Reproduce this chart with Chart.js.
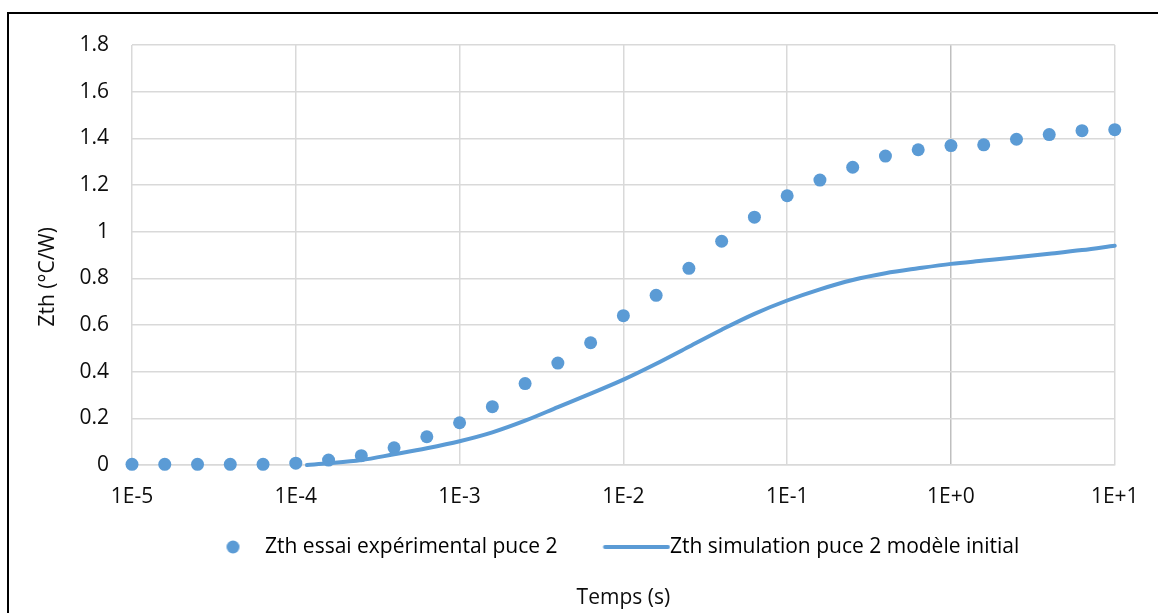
<!DOCTYPE html>
<html>
<head>
<meta charset="utf-8">
<script src="https://cdn.jsdelivr.net/npm/chart.js@4.4.1/dist/chart.umd.min.js"></script>
<style>
  html, body { margin: 0; padding: 0; background: #fff; overflow: hidden; }
  #frame { position: absolute; left: 7px; top: 12px; width: 1300px; height: 700px; border: 2px solid #000; box-sizing: border-box; }
  #wrap { position: absolute; left: 0; top: 0; width: 1158px; height: 613px; }
</style>
</head>
<body>
<div id="frame"></div>
<div id="wrap"><canvas id="chart" width="1158" height="613"></canvas></div>
<script>
// time (s) of the measured points, 5 per decade
const timeExp = [
  1e-5, 1.585e-5, 2.512e-5, 3.981e-5, 6.31e-5,
  1e-4, 1.585e-4, 2.512e-4, 3.981e-4, 6.31e-4,
  1e-3, 1.585e-3, 2.512e-3, 3.981e-3, 6.31e-3,
  1e-2, 1.585e-2, 2.512e-2, 3.981e-2, 6.31e-2,
  0.1, 0.1585, 0.2512, 0.3981, 0.631,
  1, 1.585, 2.512, 3.981, 6.31, 10
];
const zthExp = [
  0.003, 0.003, 0.003, 0.003, 0.003,
  0.008, 0.021, 0.04, 0.074, 0.121,
  0.181, 0.25, 0.349, 0.437, 0.524,
  0.64, 0.727, 0.843, 0.959, 1.062,
  1.154, 1.221, 1.276, 1.324, 1.351,
  1.369, 1.372, 1.396, 1.416, 1.433, 1.437
];

// simulated curve
const timeSim = [
  1.17e-4, 1.585e-4, 2.512e-4, 3.981e-4, 6.31e-4,
  1e-3, 1.585e-3, 2.512e-3, 3.981e-3, 6.31e-3,
  1e-2, 1.585e-2, 2.512e-2, 3.981e-2, 6.31e-2,
  0.1, 0.1585, 0.2512, 0.3981, 0.631,
  1, 1.585, 2.512, 3.981, 6.31, 10
];
const zthSim = [
  0, 0.007, 0.021, 0.046, 0.072,
  0.102, 0.14, 0.19, 0.248, 0.306,
  0.366, 0.434, 0.507, 0.58, 0.648,
  0.705, 0.753, 0.793, 0.822, 0.843,
  0.862, 0.876, 0.89, 0.905, 0.921, 0.94
];

const xTicks = [1e-5, 1e-4, 1e-3, 1e-2, 1e-1, 1, 10];
const xTickLabels = ["1E-5", "1E-4", "1E-3", "1E-2", "1E-1", "1E+0", "1E+1"];
const yTicks = [0, 0.2, 0.4, 0.6, 0.8, 1, 1.2, 1.4, 1.6, 1.8];
const yTickLabels = ["0", "0.2", "0.4", "0.6", "0.8", "1", "1.2", "1.4", "1.6", "1.8"];
const seriesNames = ["Zth essai expérimental puce 2", "Zth simulation puce 2 modèle initial"];
const xTitle = "Temps (s)";
const yTitle = "Zth (°C/W)";

const BLUE = "#5b9bd5";
const GRID = "#d9d9d9";
const TEXT = "#0d0d0d";
const FAMILY = "'Open Sans'";
const FS = 21;
const LH = FS * 1.2;

// legend geometry: entry texts start at x=265 and x=670, row centred
const measure = document.createElement("canvas").getContext("2d");
measure.font = FS + "px " + FAMILY;
const tw1 = measure.measureText(seriesNames[0]).width;
const tw2 = measure.measureText(seriesNames[1]).width;
const slack = 530 + tw1 + tw2 - 1158;
const padLeft = Math.max(0, slack);
const legendPad = Math.min(40, Math.max(0, -slack));
const boxW = Math.max(FS, 405 - FS / 2 - tw1 - legendPad);
const xAxisH = 71.5 - legendPad;
// push the rotated y title a little below the plot centre
const ySpaces = Math.round(46 / measure.measureText(" ").width);

function markerCircle() {
  const off = boxW / 2 + FS / 2 - 32;
  const c = document.createElement("canvas");
  c.width = Math.ceil(2 * (Math.abs(off) + 8));
  c.height = 16;
  const g = c.getContext("2d");
  g.fillStyle = BLUE;
  g.beginPath();
  g.arc(c.width / 2 + off, 8, 6.5, 0, Math.PI * 2);
  g.fill();
  return c;
}

function markerLine() {
  const a = boxW / 2 + FS / 2 - 65;
  const b = boxW / 2 + FS / 2 - 2;
  const c = document.createElement("canvas");
  c.width = Math.ceil(2 * Math.max(Math.abs(a), Math.abs(b)) + 4);
  c.height = 8;
  const g = c.getContext("2d");
  g.strokeStyle = BLUE;
  g.lineWidth = 4;
  g.lineCap = "round";
  g.beginPath();
  g.moveTo(c.width / 2 + a, 4);
  g.lineTo(c.width / 2 + b, 4);
  g.stroke();
  return c;
}

const font = { family: FAMILY, size: FS };

new Chart(document.getElementById("chart"), {
  type: "scatter",
  data: {
    datasets: [
      {
        label: seriesNames[0],
        data: timeExp.map((t, i) => ({ x: t, y: zthExp[i] })),
        backgroundColor: BLUE,
        borderWidth: 0,
        pointRadius: 6.5,
        clip: false,
        order: 1
      },
      {
        type: "line",
        label: seriesNames[1],
        data: timeSim.map((t, i) => ({ x: t, y: zthSim[i] })),
        borderColor: BLUE,
        borderWidth: 4,
        borderCapStyle: "round",
        pointRadius: 0,
        cubicInterpolationMode: "monotone",
        fill: false,
        clip: false,
        order: 0
      }
    ]
  },
  options: {
    responsive: false,
    animation: false,
    layout: { padding: { top: 45, left: padLeft, right: 0, bottom: 45.5 } },
    scales: {
      x: {
        type: "logarithmic",
        min: 1e-5,
        max: 10,
        afterBuildTicks: (s) => { s.ticks = xTicks.map((v) => ({ value: v })); },
        afterFit: (s) => { s.height = xAxisH; },
        ticks: {
          autoSkip: false,
          maxRotation: 0,
          padding: 19.4,
          color: TEXT,
          font,
          callback: (v, i) => xTickLabels[i]
        },
        grid: {
          drawTicks: false,
          lineWidth: 1.5,
          color: (c) => (c.tick && c.tick.value === 1 ? "#bfbfbf" : GRID)
        },
        border: { color: GRID, width: 1.5 },
        // drawn under the legend, centred on the plot
        title: {
          display: true,
          text: xTitle,
          color: TEXT,
          font,
          padding: { top: 0, bottom: (465 + xAxisH) - 598 - LH / 2 }
        }
      },
      y: {
        min: 0,
        max: 1.8,
        afterBuildTicks: (s) => { s.ticks = yTicks.map((v) => ({ value: v })); },
        afterFit: (s) => { s.width = 132 - padLeft; },
        ticks: {
          padding: 23,
          color: TEXT,
          font,
          callback: (v, i) => yTickLabels[i]
        },
        grid: { drawTicks: false, lineWidth: 1.5, color: GRID },
        border: { display: false },
        title: {
          display: true,
          text: yTitle + " ".repeat(ySpaces),
          color: TEXT,
          font,
          padding: { top: 48.5 - padLeft - LH / 2 }
        }
      },
      yRight: {
        position: "right",
        display: true,
        afterFit: (s) => { s.width = 35; },
        ticks: { display: false },
        grid: { display: false },
        border: { display: false }
      }
    },
    plugins: {
      tooltip: { enabled: false },
      legend: {
        position: "bottom",
        labels: {
          usePointStyle: true,
          pointStyleWidth: boxW,
          padding: legendPad,
          color: TEXT,
          font,
          generateLabels: () => [
            { text: seriesNames[0], pointStyle: markerCircle(), fillStyle: BLUE, strokeStyle: BLUE, lineWidth: 0, hidden: false, datasetIndex: 0 },
            { text: seriesNames[1], pointStyle: markerLine(), fillStyle: BLUE, strokeStyle: BLUE, lineWidth: 0, hidden: false, datasetIndex: 1 }
          ]
        }
      }
    }
  }
});
</script>
</body>
</html>
